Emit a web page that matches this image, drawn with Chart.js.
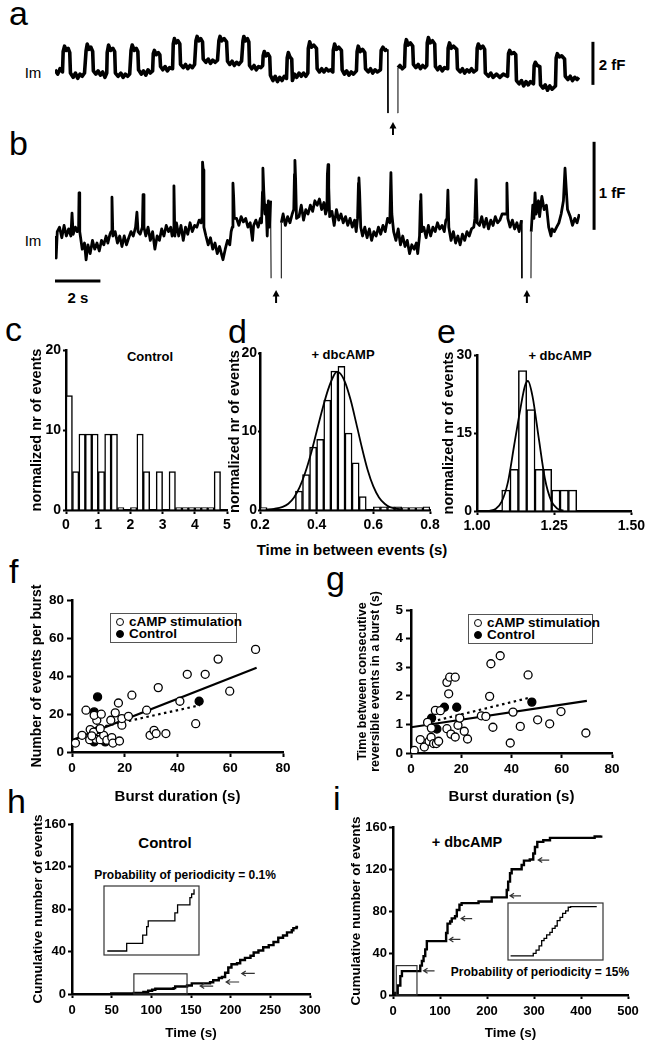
<!DOCTYPE html>
<html>
<head>
<meta charset="utf-8">
<title>Reversible events: traces, intervals, bursts</title>
<script src="https://cdn.jsdelivr.net/npm/chart.js@4.4.1/dist/chart.umd.min.js"></script>
<style>
  body { margin:0; width:648px; height:1050px; position:relative; overflow:hidden; background:#fff;
         font-family: Arial, "Liberation Sans", Helvetica, sans-serif; color:#000; }
  canvas { position:absolute; }
  .t { position:absolute; white-space:nowrap; transform:translate(-50%,-50%); font-weight:bold; line-height:1; }
  .p { position:absolute; font-size:34px; line-height:34px; }
  .legend { position:absolute; box-sizing:border-box; border:1.3px solid #555; padding:2px 0 0 4px;
            font-weight:bold; font-size:13.5px; line-height:12px; white-space:nowrap; }
  .dot { display:inline-block; width:6px; height:6px; border-radius:50%; border:1.3px solid #000;
         margin:0 5px 0 1px; vertical-align:0px; background:#fff; }
  .dot.fill { background:#000; }
</style>
</head>
<body>

<div class="p" style="left:9px;top:-4px">a</div>
<div class="p" style="left:9px;top:126px">b</div>
<div class="p" style="left:5px;top:312px">c</div>
<div class="p" style="left:228px;top:314px">d</div>
<div class="p" style="left:437px;top:314px">e</div>
<div class="p" style="left:9px;top:554px">f</div>
<div class="p" style="left:326px;top:561px">g</div>
<div class="p" style="left:7px;top:784px">h</div>
<div class="p" style="left:333px;top:781px">i</div>

<div class="t" style="left:33px;top:72px;font-weight:normal;font-size:15px">Im</div>
<div class="t" style="left:33px;top:240px;font-weight:normal;font-size:15px">Im</div>
<div class="t" style="left:612px;top:64px;font-size:15px">2 fF</div>
<div class="t" style="left:612px;top:192px;font-size:15px">1 fF</div>
<div class="t" style="left:78px;top:297px;font-size:15px">2 s</div>

<div class="t" style="left:150px;top:356px;font-size:13px">Control</div>
<div class="t" style="left:343px;top:354px;font-size:13px">+ dbcAMP</div>
<div class="t" style="left:560px;top:355px;font-size:13px">+ dbcAMP</div>
<div class="t" style="left:352px;top:549px;font-size:15px">Time in between events (s)</div>

<div class="legend" style="left:110px;top:613px;width:127px;height:30px">
  <div><span class="dot"></span>cAMP stimulation</div>
  <div><span class="dot fill"></span>Control</div>
</div>
<div class="legend" style="left:468px;top:614px;width:125px;height:30px">
  <div><span class="dot"></span>cAMP stimulation</div>
  <div><span class="dot fill"></span>Control</div>
</div>

<div class="t" style="left:165px;top:842px;font-size:15px">Control</div>
<div class="t" style="left:185px;top:875px;font-size:12px">Probability of periodicity = 0.1%</div>
<div class="t" style="left:467px;top:842px;font-size:14.5px">+ dbcAMP</div>
<div class="t" style="left:540px;top:972px;font-size:12px">Probability of periodicity = 15%</div>

<script>
// ---- data ----

// a: capacitance trace, [time (s), fF]; null = trace off scale between the two downward deflections
const traceA = [
  [0,2.1],[0.12,1.9],[0.22,2.15],[0.33,2.0],
  [0.36,2.95],[0.42,3.2],[0.5,3.0],[0.58,3.1],[0.65,2.9],
  [0.68,1.95],[0.8,1.75],[0.9,1.95],[1.0,1.7],[1.1,1.9],[1.2,1.8],[1.3,1.95],
  [1.37,3.0],[1.42,3.3],[1.5,3.05],[1.58,3.15],[1.66,2.95],
  [1.69,2.05],[1.8,1.9],[1.9,2.05],[2.0,1.85],[2.1,2.0],[2.2,1.75],[2.28,1.95],
  [2.3,2.9],[2.36,3.25],[2.45,3.0],[2.55,3.1],[2.63,2.95],
  [2.66,1.95],[2.78,1.8],[2.9,1.95],[3.0,1.75],[3.1,1.9],[3.2,1.8],[3.29,1.9],
  [3.35,3.0],[3.4,3.25],[3.5,3.0],[3.58,3.1],[3.65,2.95],
  [3.68,2.1],[3.8,1.9],[3.9,2.05],[4.0,1.85],[4.1,2.1],[4.2,1.95],[4.3,2.05],
  [4.33,2.85],[4.38,3.0],[4.46,2.8],[4.55,2.9],[4.62,2.8],
  [4.65,2.25],[4.75,2.1],[4.85,2.25],[4.95,2.05],[5.05,2.2],[5.18,2.15],
  [5.21,3.3],[5.26,3.55],[5.34,3.35],[5.42,3.45],[5.5,3.3],
  [5.53,2.35],[5.65,2.2],[5.75,2.35],[5.85,2.15],[5.95,2.3],[6.05,2.2],[6.15,2.35],
  [6.21,3.45],[6.26,3.65],[6.34,3.45],[6.42,3.55],[6.5,3.4],
  [6.53,2.6],[6.65,2.45],[6.75,2.6],[6.85,2.4],[6.95,2.55],[7.05,2.45],[7.16,2.55],
  [7.22,3.45],[7.27,3.65],[7.35,3.45],[7.45,3.55],[7.56,3.4],
  [7.6,2.5],[7.7,2.35],[7.8,2.5],[7.9,2.3],[8.0,2.45],[8.1,2.35],[8.22,2.5],
  [8.28,3.45],[8.32,3.65],[8.4,3.45],[8.48,3.55],[8.54,3.4],
  [8.57,2.3],[8.67,2.15],[8.77,2.3],[8.87,2.1],[8.97,2.25],[9.07,2.2],[9.15,2.3],
  [9.17,2.75],[9.22,2.95],[9.3,2.75],[9.38,2.85],[9.46,2.7],
  [9.49,1.85],[9.6,1.6],[9.7,1.8],[9.8,1.55],[9.9,1.75],[10.0,1.6],[10.1,1.8],[10.2,1.7],
  [10.23,2.65],[10.28,2.9],[10.35,2.7],[10.43,2.6],
  [10.46,1.6],[10.55,1.9],[10.65,1.75],[10.75,1.95],[10.85,1.8],[10.95,1.95],[11.05,1.8],[11.14,1.95],
  [11.16,3.1],[11.22,3.4],[11.3,3.15],[11.4,3.25],[11.52,3.1],
  [11.55,2.15],[11.65,2.0],[11.75,2.15],[11.85,2.0],[11.95,2.15],[12.05,2.05],[12.15,2.1],[12.24,2.0],
  [12.26,3.0],[12.32,3.3],[12.4,3.05],[12.5,3.15],[12.62,3.0],
  [12.65,2.1],[12.75,1.9],[12.85,2.05],[12.95,1.85],[13.05,2.0],[13.15,1.9],[13.28,2.05],
  [13.31,2.95],[13.36,3.2],[13.45,2.95],[13.55,3.05],[13.65,2.9],
  [13.68,2.15],[13.8,2.0],[13.9,2.15],[14.0,1.95],[14.1,2.1],[14.2,2.0],[14.34,2.1],
  [14.37,3.0],[14.45,3.15],[14.55,3.0],[14.65,3.05],
  [14.67,0.09],[14.68,null],[15.10,0.09],
  [15.11,2.2],[15.2,2.3],[15.3,2.15],[15.4,2.25],
  [15.43,3.25],[15.48,3.5],[15.56,3.25],[15.66,3.35],[15.76,3.2],
  [15.79,2.35],[15.9,2.2],[16.0,2.35],[16.1,2.15],[16.2,2.3],[16.3,2.2],[16.38,2.3],
  [16.4,3.35],[16.45,3.6],[16.53,3.35],[16.63,3.45],[16.73,3.3],
  [16.76,2.25],[16.86,2.1],[16.96,2.25],[17.06,2.05],[17.16,2.2],[17.3,2.15],
  [17.32,3.1],[17.38,3.35],[17.46,3.1],[17.56,3.2],[17.7,3.05],
  [17.73,2.15],[17.85,2.0],[17.95,2.15],[18.05,1.95],[18.15,2.1],[18.25,2.0],[18.35,2.15],[18.45,2.0],[18.57,2.1],
  [18.6,3.1],[18.65,3.3],[18.75,3.1],[18.85,3.2],[18.93,3.05],
  [18.96,1.95],[19.1,1.8],[19.2,1.95],[19.3,1.75],[19.45,1.9],[19.6,1.75],[19.75,1.9],[19.94,1.8],
  [19.98,2.85],[20.03,3.0],[20.12,2.85],[20.22,2.9],[20.3,2.8],
  [20.33,1.6],[20.45,1.45],[20.55,1.6],[20.65,1.35],[20.75,1.55],[20.85,1.4],[20.95,1.55],[21.08,1.45],
  [21.11,2.3],[21.16,2.45],[21.25,2.3],[21.36,2.25],
  [21.39,1.4],[21.5,1.25],[21.6,1.4],[21.7,1.15],[21.8,1.35],[21.9,1.2],[22.05,1.35],
  [22.08,2.65],[22.13,2.85],[22.22,2.7],[22.32,2.75],[22.45,2.6],
  [22.48,1.8],[22.6,1.65],[22.7,1.8],[22.8,1.6],[22.9,1.75],[23.0,1.65],[23.08,1.75]
];

// b: capacitance trace after dbcAMP, [time (s), fF]
const traceB = [
  [0,0.5],[0.05,0.25],[0.1,0.55],[0.2,0.6],[0.3,0.48],[0.4,0.62],[0.5,0.5],[0.6,0.58],[0.7,0.5],[0.75,0.76],[0.8,0.52],[0.9,0.6],[0.98,0.55],
  [1.04,0.6],[1.06,0.99],[1.09,0.55],
  [1.2,0.35],[1.3,0.42],[1.37,0.23],[1.45,0.4],[1.55,0.3],[1.65,0.45],[1.75,0.35],[1.85,0.42],[1.95,0.33],[2.05,0.45],[2.15,0.4],[2.25,0.5],[2.33,0.42],[2.42,0.52],
  [2.47,0.55],[2.51,0.94],[2.55,0.5],
  [2.65,0.55],[2.75,0.42],[2.85,0.5],[2.95,0.38],[3.05,0.5],[3.15,0.4],[3.25,0.48],[3.35,0.55],[3.45,0.5],[3.55,0.6],[3.61,0.77],[3.66,0.55],[3.75,0.52],
  [3.85,0.6],[3.88,0.97],[3.92,0.6],
  [4.0,0.5],[4.1,0.6],[4.2,0.45],[4.3,0.55],[4.4,0.35],[4.5,0.5],[4.6,0.45],[4.7,0.58],[4.8,0.5],[4.9,0.62],[5.0,0.55],[5.1,0.6],[5.16,0.5],
  [5.21,0.55],[5.24,1.07],[5.28,0.5],
  [5.35,0.65],[5.45,0.5],[5.55,0.62],[5.65,0.45],[5.75,0.6],[5.85,0.52],[5.95,0.65],[6.05,0.55],[6.15,0.62],[6.25,0.6],[6.35,0.68],[6.44,0.65],
  [6.48,0.7],[6.5,1.34],[6.53,1.25],[6.56,0.6],
  [6.65,0.5],[6.75,0.4],[6.85,0.48],[6.95,0.35],[7.05,0.42],[7.15,0.3],[7.25,0.38],[7.35,0.28],[7.4,0.23],[7.5,0.35],[7.6,0.45],[7.7,0.4],[7.76,0.55],
  [7.81,0.6],[7.84,1.1],[7.87,0.95],[7.9,0.7],
  [8.0,0.7],[8.1,0.62],[8.2,0.72],[8.3,0.66],[8.4,0.7],[8.5,0.6],[8.6,0.65],[8.7,0.45],[8.75,0.62],[8.85,0.68],[8.95,0.6],[9.05,0.7],
  [9.1,0.65],[9.14,1.0],[9.16,1.27],[9.2,1.0],[9.25,0.75],[9.3,0.85],[9.35,0.5],[9.4,0.9],[9.45,0.6],[9.5,0.9],
  [9.52,0.02],[9.53,null],[9.96,0.02],[9.97,0.65],
  [10.05,0.75],[10.15,0.62],[10.25,0.72],[10.35,0.65],[10.45,0.75],
  [10.52,0.8],[10.55,1.2],[10.57,1.36],[10.6,1.15],[10.64,0.7],
  [10.75,0.72],[10.85,0.85],[10.95,0.68],[11.05,0.8],[11.15,0.75],[11.25,0.85],[11.35,0.78],[11.45,0.9],[11.55,0.85],[11.65,0.92],[11.75,0.8],[11.85,0.88],[11.92,0.75],
  [11.98,0.8],[12.0,1.2],[12.03,1.31],[12.06,1.05],[12.1,0.72],
  [12.2,0.78],[12.3,0.62],[12.4,0.8],[12.5,0.68],[12.6,0.75],[12.7,0.65],[12.8,0.72],[12.9,0.62],[13.0,0.7],[13.1,0.6],[13.2,0.68],[13.27,0.55],
  [13.33,0.7],[13.37,1.1],[13.39,1.16],[13.42,1.0],[13.47,0.6],
  [13.55,0.5],[13.65,0.6],[13.75,0.48],[13.85,0.58],[13.95,0.45],[14.05,0.55],[14.15,0.5],[14.25,0.6],[14.35,0.52],[14.45,0.62],[14.55,0.55],[14.65,0.7],
  [14.75,0.65],[14.8,1.22],[14.84,0.75],
  [14.92,0.55],[15.02,0.45],[15.12,0.58],[15.22,0.4],[15.32,0.5],[15.42,0.38],[15.52,0.45],[15.62,0.3],[15.72,0.4],[15.82,0.35],[15.92,0.42],[15.98,0.3],
  [16.06,0.5],[16.1,0.9],[16.12,0.97],[16.16,0.55],
  [16.25,0.6],[16.35,0.48],[16.45,0.62],[16.55,0.5],[16.65,0.6],[16.75,0.55],[16.85,0.65],[16.95,0.58],[17.05,0.62],[17.15,0.55],[17.22,0.68],
  [17.27,0.7],[17.31,1.02],[17.35,0.6],
  [17.45,0.45],[17.55,0.55],[17.65,0.42],[17.75,0.5],[17.85,0.4],[17.95,0.52],[18.05,0.45],[18.15,0.55],[18.25,0.5],[18.35,0.58],[18.45,0.6],
  [18.5,0.7],[18.55,1.14],[18.6,0.65],
  [18.7,0.62],[18.8,0.72],[18.9,0.6],[19.0,0.7],[19.1,0.58],[19.2,0.68],[19.3,0.62],[19.4,0.72],[19.5,0.65],[19.6,0.68],[19.7,0.75],
  [19.87,0.75],[19.91,1.1],[19.95,0.7],
  [20.05,0.6],[20.15,0.68],[20.25,0.58],[20.35,0.65],[20.45,0.55],[20.55,0.68],
  [20.57,0.02],[20.58,null],[20.97,0.02],
  [20.98,0.55],[21.05,0.85],[21.1,0.7],[21.15,0.99],[21.2,0.75],[21.3,0.9],[21.35,0.72],[21.45,0.95],[21.55,0.8],[21.65,0.85],[21.75,0.6],[21.85,0.5],[21.9,0.58],
  [22.0,0.55],[22.1,0.6],[22.2,0.65],[22.3,0.75],[22.4,0.9],[22.47,1.27],[22.52,1.05],[22.58,0.8],
  [22.7,0.72],[22.8,0.62],[22.9,0.7],[23.0,0.65],[23.1,0.75]
];
const traceArrowsA = [14.89];          // s
const traceArrowsB = [9.74, 20.79];    // s

// c: control intervals, bin centres (s) and normalized counts
const cBins = [0.1,0.3,0.5,0.7,0.9,1.1,1.3,1.5,1.7,1.9,2.1,2.3,2.5,2.7,2.9,3.1,3.3,3.5,3.7,3.9,4.1,4.3,4.5,4.7,4.9];
const cCounts = [14.3,4.8,9.5,9.5,9.5,4.8,9.5,9.5,0.3,0,0.3,9.5,4.8,0,4.8,0,4.8,0.3,0.3,0.3,0.3,0.3,0.3,4.8,0];

// d: + dbcAMP intervals
const dBins = [0.2125,0.2375,0.2625,0.2875,0.3125,0.3375,0.3625,0.3875,0.4125,0.4375,0.4625,0.4875,
               0.5125,0.5375,0.5625,0.5875,0.6125,0.6375,0.6625,0.6875,0.7125,0.7375,0.7625,0.7875];
const dCounts = [0.3,0,0,0,0,2.4,4.5,8.0,9.0,14.0,17.7,18.3,9.8,6.0,1.7,0,0.4,0.4,0.4,0.4,0.3,0.3,0.3,0.4];
const dFitX = [0.22,0.25,0.28,0.30,0.32,0.34,0.36,0.38,0.40,0.42,0.44,0.46,0.47,0.48,0.50,0.52,0.54,0.56,0.58,0.60,0.62,0.64,0.66,0.70];
const dFitY = [0.05,0.15,0.4,0.8,1.6,2.9,4.8,7.2,10.0,12.8,15.3,17.1,17.6,17.5,16.3,14.0,11.0,7.9,5.1,3.0,1.6,0.8,0.35,0.05];

// e: + dbcAMP intervals, second cell
const eBins = [1.0935,1.1205,1.1475,1.1745,1.2015,1.2285,1.2555,1.2825,1.3095];
const eCounts = [4,8,27,19.5,8,8,4,4,4];
const eFitX = [1.04,1.06,1.08,1.10,1.12,1.14,1.155,1.165,1.18,1.20,1.22,1.24,1.26,1.28];
const eFitY = [0.05,0.4,1.8,5.5,12.5,19.5,24,25,22,14,6.2,2.0,0.45,0.07];

// f: events per burst vs burst duration (s)
const fCamp = [[1.3,4.7],[3.8,8.8],[5.3,22],[6.7,6.5],[6.9,11.8],[8.2,10.5],[9.1,6.7],[9.4,16.7],[8.4,19.3],[11.1,19.9],
  [10.7,6.5],[12.0,8.8],[13.2,6.2],[14.7,16.7],[15.1,7.6],[15.5,4.7],[16.4,20.6],[17.6,25.8],[18.0,5.8],[18.9,14.1],
  [18.9,17.6],[21.4,18.8],[22.7,29.9],[28.3,22],[29.6,8.8],[31.1,11.4],[31.9,9.7],[32.7,33.9],[35.6,9.7],[40.9,26.7],
  [43.7,40.9],[46.9,14.9],[50.5,40.9],[55.4,48.9],[59.8,32],[69.6,54],[10.7,12.3],[7.5,8.5]];
const fControl = [[9.7,29],[8.4,21.1],[10.3,11.8],[8.4,5.3],[12.6,5.3],[48.2,26.7]];
const fFitCamp = [[0,6.2],[70,44.3]];
const fFitControl = [[8.2,12.3],[48.5,24.6]];

// g: time between consecutive reversible events (s) vs burst duration (s)
const gCamp = [[1.3,0.09],[3.7,0.47],[5.3,0.21],[6.6,1.07],[7.2,0.41],[8.0,0.55],[8.1,0.87],[9.0,0.33],[9.7,1.49],[10.1,0.33],
  [11.0,0.41],[11.7,1.48],[14.3,2.47],[15.0,2.07],[15.4,2.65],[14.3,0.85],[15.9,0.66],[17.6,0.56],[17.6,2.65],[18.7,0.97],
  [19.4,1.22],[21.2,0.76],[22.5,0.49],[28.0,1.3],[29.8,1.28],[31.3,1.98],[31.8,3.12],[32.6,0.9],[35.5,3.4],[39.5,0.35],
  [40.6,1.43],[43.5,0.93],[46.6,2.73],[50.4,1.16],[55.2,1.02],[59.7,1.45],[69.6,0.7]];
const gControl = [[8.2,1.22],[10.3,0.84],[13.3,1.6],[18.2,1.6],[48.1,1.78]];
const gFitCamp = [[0,0.9],[70,1.82]];
const gFitControl = [[8.4,1.1],[47.5,1.94]];

// h: cumulative events, control
const hTime = [48,78,90,96,101,105,128,130,145,151,174,178,185,189,193,197,201,208,212,218,225,229,235,241,248,254,260,266,271,277,279,283,285];
const hCount = [0.5,1,2,3,4,5,5.5,7,8,10,11,13,15,16,20,25,28,29,32,34,36,39,41,44,46,49,53,55,58,60,62,63,63];
const hInsetTime = [80.3,94.0,105.3,108.1,109.2,128.0,129.9,138.6,139.8,141.5];
const hInsetCount = [1.1,3.2,5.5,7.8,9.4,11.6,13.8,15.8,16.8,18.1];
const hZoomBox = [78,145,0,19];                    // s, s, events, events
const hArrows = [[161.6,7.5],[194.3,11.3],[214,19.4]];

// i: cumulative events, + dbcAMP
const iTime = [2,5,10,15.6,19,51,58,61.5,65,68.6,72,107.5,113,116,121.6,125,132,135.8,141.4,146,178,182,206,210,238,242,245,249,252.5,
  270,273.7,278.6,291,298.4,302,307,319.7,334,411.6,429,443];
const iCount = [0,2,9,18,22.7,22.7,28,32.4,37,43.5,51.3,51.3,59,68,70,73,75,81,86,87.5,87.5,89,89,93,93,100,108,116,119.7,
  119.7,123.8,128,129,134.8,141,145.8,147.4,149.6,149.6,151,152];
const iInsetTime = [8.2,18.7,20.0,21.4,22.6,23.7,24.9,26.4,27.5,28.8,29.8,31.1,32.3,33.7,34.9,36.0,48.1];
const iInsetCount = [2.0,3.3,4.9,6.9,9.5,10.6,12.3,13.6,15.5,16.7,19.3,20.9,22.9,24.1,25.9,26.2,26.2];
const iZoomBox = [7,51,0,28];
const iArrows = [[65,23],[120,52.9],[145,72.8],[249,94.5],[309,128.5]];


// ---- helpers ----
Chart.defaults.font.family = 'Arial, "Liberation Sans", Helvetica, sans-serif';
Chart.defaults.color = '#000';
Chart.defaults.animation = false;
Chart.defaults.events = [];
Chart.defaults.plugins.legend.display = false;
Chart.defaults.plugins.tooltip.enabled = false;

const addCanvas = (left, top, w, h) => {
    const c = document.createElement('canvas');
    c.width = w; c.height = h;
    c.style.left = left + 'px'; c.style.top = top + 'px';
    c.style.width = w + 'px'; c.style.height = h + 'px';
    document.body.appendChild(c);
    return c;
};
const xy = pairs => pairs.map(([x, y]) => ({x, y}));
const zip = (xs, ys) => xs.map((x, i) => ({x, y: ys[i]}));

const axis = o => ({
    type: 'linear', min: o.min, max: o.max, offset: false,
    border: { display: true, color: '#000', width: 2.5 },
    grid: { offset: false, drawOnChartArea: false, drawTicks: true, tickLength: o.tl, tickColor: '#000', tickWidth: 2 },
    ticks: { stepSize: o.step, padding: o.pad, autoSkip: false, maxRotation: 0, color: '#000',
             font: { size: o.fs, weight: 'bold' }, callback: o.fmt },
    title: o.title
        ? { display: true, text: o.title, color: '#000', padding: o.tpad,
            font: { size: o.tfs, weight: 'bold', lineHeight: o.tlh || 1.2 } }
        : { display: false },
    afterFit: s => { if (s.isHorizontal()) s.height = o.size; else s.width = o.size; }
});

// scale bars and arrows under the traces
const traceMarks = {
    id: 'traceMarks',
    afterDatasetsDraw(chart, args, o) {
        const {ctx, chartArea, scales: {x, y}} = chart;
        ctx.save();
        ctx.strokeStyle = '#000'; ctx.fillStyle = '#000';
        ctx.lineWidth = 3;
        const bx = x.getPixelForValue(o.bar[0]);
        ctx.beginPath();
        ctx.moveTo(bx, y.getPixelForValue(o.bar[1]));
        ctx.lineTo(bx, y.getPixelForValue(o.bar[2]));
        ctx.stroke();
        if (o.timeBar) {
            const ty = y.getPixelForValue(o.timeBar[2]);
            ctx.beginPath();
            ctx.moveTo(x.getPixelForValue(o.timeBar[0]), ty);
            ctx.lineTo(x.getPixelForValue(o.timeBar[1]), ty);
            ctx.stroke();
        }
        ctx.lineWidth = 2;
        o.arrows.forEach(t => {
            const ax = x.getPixelForValue(t), top = chartArea.bottom + o.gap;
            ctx.beginPath(); ctx.moveTo(ax, top + 13); ctx.lineTo(ax, top + 5); ctx.stroke();
            ctx.beginPath(); ctx.moveTo(ax, top); ctx.lineTo(ax - 3.5, top + 6.5); ctx.lineTo(ax + 3.5, top + 6.5);
            ctx.closePath(); ctx.fill();
        });
        ctx.restore();
    }
};

// zoom box, inset frame and small arrows for the cumulative plots
const zoomMarks = {
    id: 'zoomMarks',
    afterDatasetsDraw(chart, args, o) {
        const {ctx, chartArea: a, scales: {x, y}} = chart;
        ctx.save();
        ctx.strokeStyle = '#333'; ctx.lineWidth = 1.2;
        if (o.box) {
            const l = x.getPixelForValue(o.box[0]), r = x.getPixelForValue(o.box[1]);
            const b = y.getPixelForValue(o.box[2]), t = y.getPixelForValue(o.box[3]);
            ctx.strokeRect(l, t, r - l, b - t);
        }
        if (o.frame) ctx.strokeRect(a.left, a.top, a.right - a.left, a.bottom - a.top);
        (o.arrows || []).forEach(([ax, ay]) => {
            const px = x.getPixelForValue(ax), py = y.getPixelForValue(ay);
            ctx.beginPath();
            ctx.moveTo(px + o.len, py); ctx.lineTo(px, py);
            ctx.moveTo(px + 4, py - 2.5); ctx.lineTo(px, py); ctx.lineTo(px + 4, py + 2.5);
            ctx.stroke();
        });
        ctx.restore();
    }
};

const TRACE_SPAN = 23.13;

const traceChart = (canvas, pairs, yMax, pad, marks, width, thinBelow) => new Chart(canvas, {
    type: 'line',
    data: { datasets: [{
        data: xy(pairs), borderColor: '#000', borderWidth: width, pointRadius: 0, tension: 0,
        borderJoinStyle: 'round',
        segment: { borderWidth: c => (c.p0.parsed.y < thinBelow || c.p1.parsed.y < thinBelow) ? 1 : undefined }
    }]},
    options: {
        responsive: false, layout: { padding: pad },
        scales: { x: { type: 'linear', display: false, min: 0, max: TRACE_SPAN },
                  y: { type: 'linear', display: false, min: 0, max: yMax } },
        plugins: { traceMarks: marks }
    },
    plugins: [traceMarks]
});

const histChart = (canvas, bins, counts, fit, xAx, yAx, padRight) => new Chart(canvas, {
    type: 'bar',
    data: { datasets: [
        ...(fit ? [{ type: 'line', data: fit, borderColor: '#000', borderWidth: 1.8, pointRadius: 0,
                     cubicInterpolationMode: 'monotone' }] : []),
        { data: zip(bins, counts), backgroundColor: '#fff', borderColor: '#000', borderWidth: 1.5,
          barPercentage: 1, categoryPercentage: 1, borderSkipped: 'bottom' }
    ]},
    options: {
        responsive: false,
        layout: { padding: { left: 0, top: 20, right: padRight, bottom: 0 } },
        scales: { x: axis(xAx), y: axis(yAx) }
    }
});

const scatterChart = (canvas, camp, ctrl, fitCamp, fitCtrl, xAx, yAx, padTop) => new Chart(canvas, {
    type: 'scatter',
    data: { datasets: [
        { data: xy(camp), pointRadius: 4, pointBorderWidth: 1.3, borderColor: '#000', backgroundColor: '#fff' },
        { data: xy(ctrl), pointRadius: 4, pointBorderWidth: 1.3, borderColor: '#000', backgroundColor: '#000' },
        { data: xy(fitCamp), showLine: true, pointRadius: 0, borderColor: '#000', borderWidth: 2.2 },
        { data: xy(fitCtrl), showLine: true, pointRadius: 0, borderColor: '#000', borderWidth: 2.2, borderDash: [2.5, 3.5] }
    ]},
    options: {
        responsive: false,
        layout: { padding: { left: 0, top: padTop, right: 20, bottom: 0 } },
        scales: { x: axis(xAx), y: axis(yAx) }
    }
});

const stepChart = (canvas, xs, ys, width, scales, pad, marks) => new Chart(canvas, {
    type: 'line',
    data: { datasets: [{ data: zip(xs, ys), stepped: true, borderColor: '#000', borderWidth: width, pointRadius: 0 }] },
    options: { responsive: false, layout: { padding: pad }, scales, plugins: { zoomMarks: marks } },
    plugins: [zoomMarks]
});


// ---- a, b ----
traceChart(addCanvas(0, 0, 648, 140), traceA, 3.95,
    { left: 55, right: 68, top: 30, bottom: 25 },
    { bar: [23.7, 1.4, 3.4], arrows: traceArrowsA, gap: 7 }, 3.6, 0.2);

traceChart(addCanvas(0, 130, 648, 180), traceB, 1.477,
    { left: 55, right: 68, top: 20, bottom: 30 },
    { bar: [23.75, 0.57, 1.57], timeBar: [0, 2, -0.012], arrows: traceArrowsB, gap: 10 }, 2.8, 0.1);

// ---- c, d, e ----
const yHist = (max, step, size, tpad, tl) => ({ min: 0, max, step, size, tl, pad: tl > 2 ? 2 : 1, fs: 14,
    title: 'normalized nr of events', tfs: 14.5, tpad: { top: tpad, bottom: 0 } });

histChart(addCanvas(21, 330, 226, 210), cBins, cCounts, null,
    { min: 0, max: 5, step: 1, size: 30, tl: 4, pad: 3, fs: 14 },
    yHist(20, 10, 45, 7.3, 3), 20);

histChart(addCanvas(226, 333, 224, 207), dBins, dCounts, zip(dFitX, dFitY),
    { min: 0.2, max: 0.8, step: 0.2, size: 30, tl: 4, pad: 3, fs: 14, fmt: v => v.toFixed(1) },
    yHist(20, 10, 34, 0, 2), 20);

histChart(addCanvas(440, 335, 208, 206), eBins, eCounts, zip(eFitX, eFitY),
    { min: 1, max: 1.5, step: 0.25, size: 30, tl: 4, pad: 3, fs: 14, fmt: v => v.toFixed(2) },
    yHist(30, 15, 37, 0, 3), 15);

// ---- f, g ----
scatterChart(addCanvas(21, 580, 282, 228), fCamp, fControl, fFitCamp, fFitControl,
    { min: 0, max: 80, step: 20, size: 56, tl: 5, pad: 3, fs: 13.5,
      title: 'Burst duration (s)', tfs: 15, tpad: { top: 0, bottom: 2 } },
    { min: 0, max: 80, step: 20, size: 51, tl: 5, pad: 3, fs: 13.5,
      title: 'Number of events per burst', tfs: 14, tpad: { top: 7.6, bottom: 0 } }, 20);

scatterChart(addCanvas(350, 560, 282, 248), gCamp, gControl, gFitCamp, gFitControl,
    { min: 0, max: 80, step: 20, size: 55, tl: 5, pad: 3, fs: 13.5,
      title: 'Burst duration (s)', tfs: 15, tpad: { top: 0, bottom: 2 } },
    { min: 0, max: 5, step: 1, size: 61, tl: 5, pad: 3, fs: 13.5,
      title: ['Time between consecutive', 'reversible events in a burst (s)'], tfs: 12.5, tlh: 1.08,
      tpad: { top: 5.3, bottom: 0 } }, 50);

// ---- h, i ----
stepChart(addCanvas(21, 804, 309, 239), hTime, hCount, 2.4,
    { x: axis({ min: 0, max: 300, step: 50, size: 49, tl: 4, pad: 5, fs: 13,
                title: 'Time (s)', tfs: 13.5, tpad: { top: 0, bottom: 2 } }),
      y: axis({ min: 0, max: 160, step: 40, size: 51, tl: 4, pad: 2, fs: 13,
                title: 'Cumulative number of events', tfs: 13.5, tpad: { top: 8.9, bottom: 0 } }) },
    { left: 0, top: 20, right: 20, bottom: 0 },
    { box: hZoomBox, arrows: hArrows, len: 13 });

stepChart(addCanvas(340, 807, 308, 236), iTime, iCount, 2.4,
    { x: axis({ min: 0, max: 500, step: 100, size: 48, tl: 4, pad: 5, fs: 13,
                title: 'Time (s)', tfs: 13.5, tpad: { top: 0, bottom: 2 } }),
      y: axis({ min: 0, max: 160, step: 40, size: 53, tl: 4, pad: 2, fs: 13,
                title: 'Cumulative number of events', tfs: 13.5, tpad: { top: 8.6, bottom: 0 } }) },
    { left: 0, top: 20, right: 20, bottom: 0 },
    { box: iZoomBox, arrows: iArrows, len: 11 });

// insets
stepChart(addCanvas(100, 882, 103, 77), hInsetTime, hInsetCount, 1.3,
    { x: { type: 'linear', display: false, min: hZoomBox[0], max: hZoomBox[1] },
      y: { type: 'linear', display: false, min: hZoomBox[2], max: hZoomBox[3] } },
    4, { frame: true });

stepChart(addCanvas(504, 899, 103, 65), iInsetTime, iInsetCount, 1.3,
    { x: { type: 'linear', display: false, min: iZoomBox[0], max: iZoomBox[1] },
      y: { type: 'linear', display: false, min: iZoomBox[2], max: iZoomBox[3] } },
    4, { frame: true });
</script>
</body>
</html>
